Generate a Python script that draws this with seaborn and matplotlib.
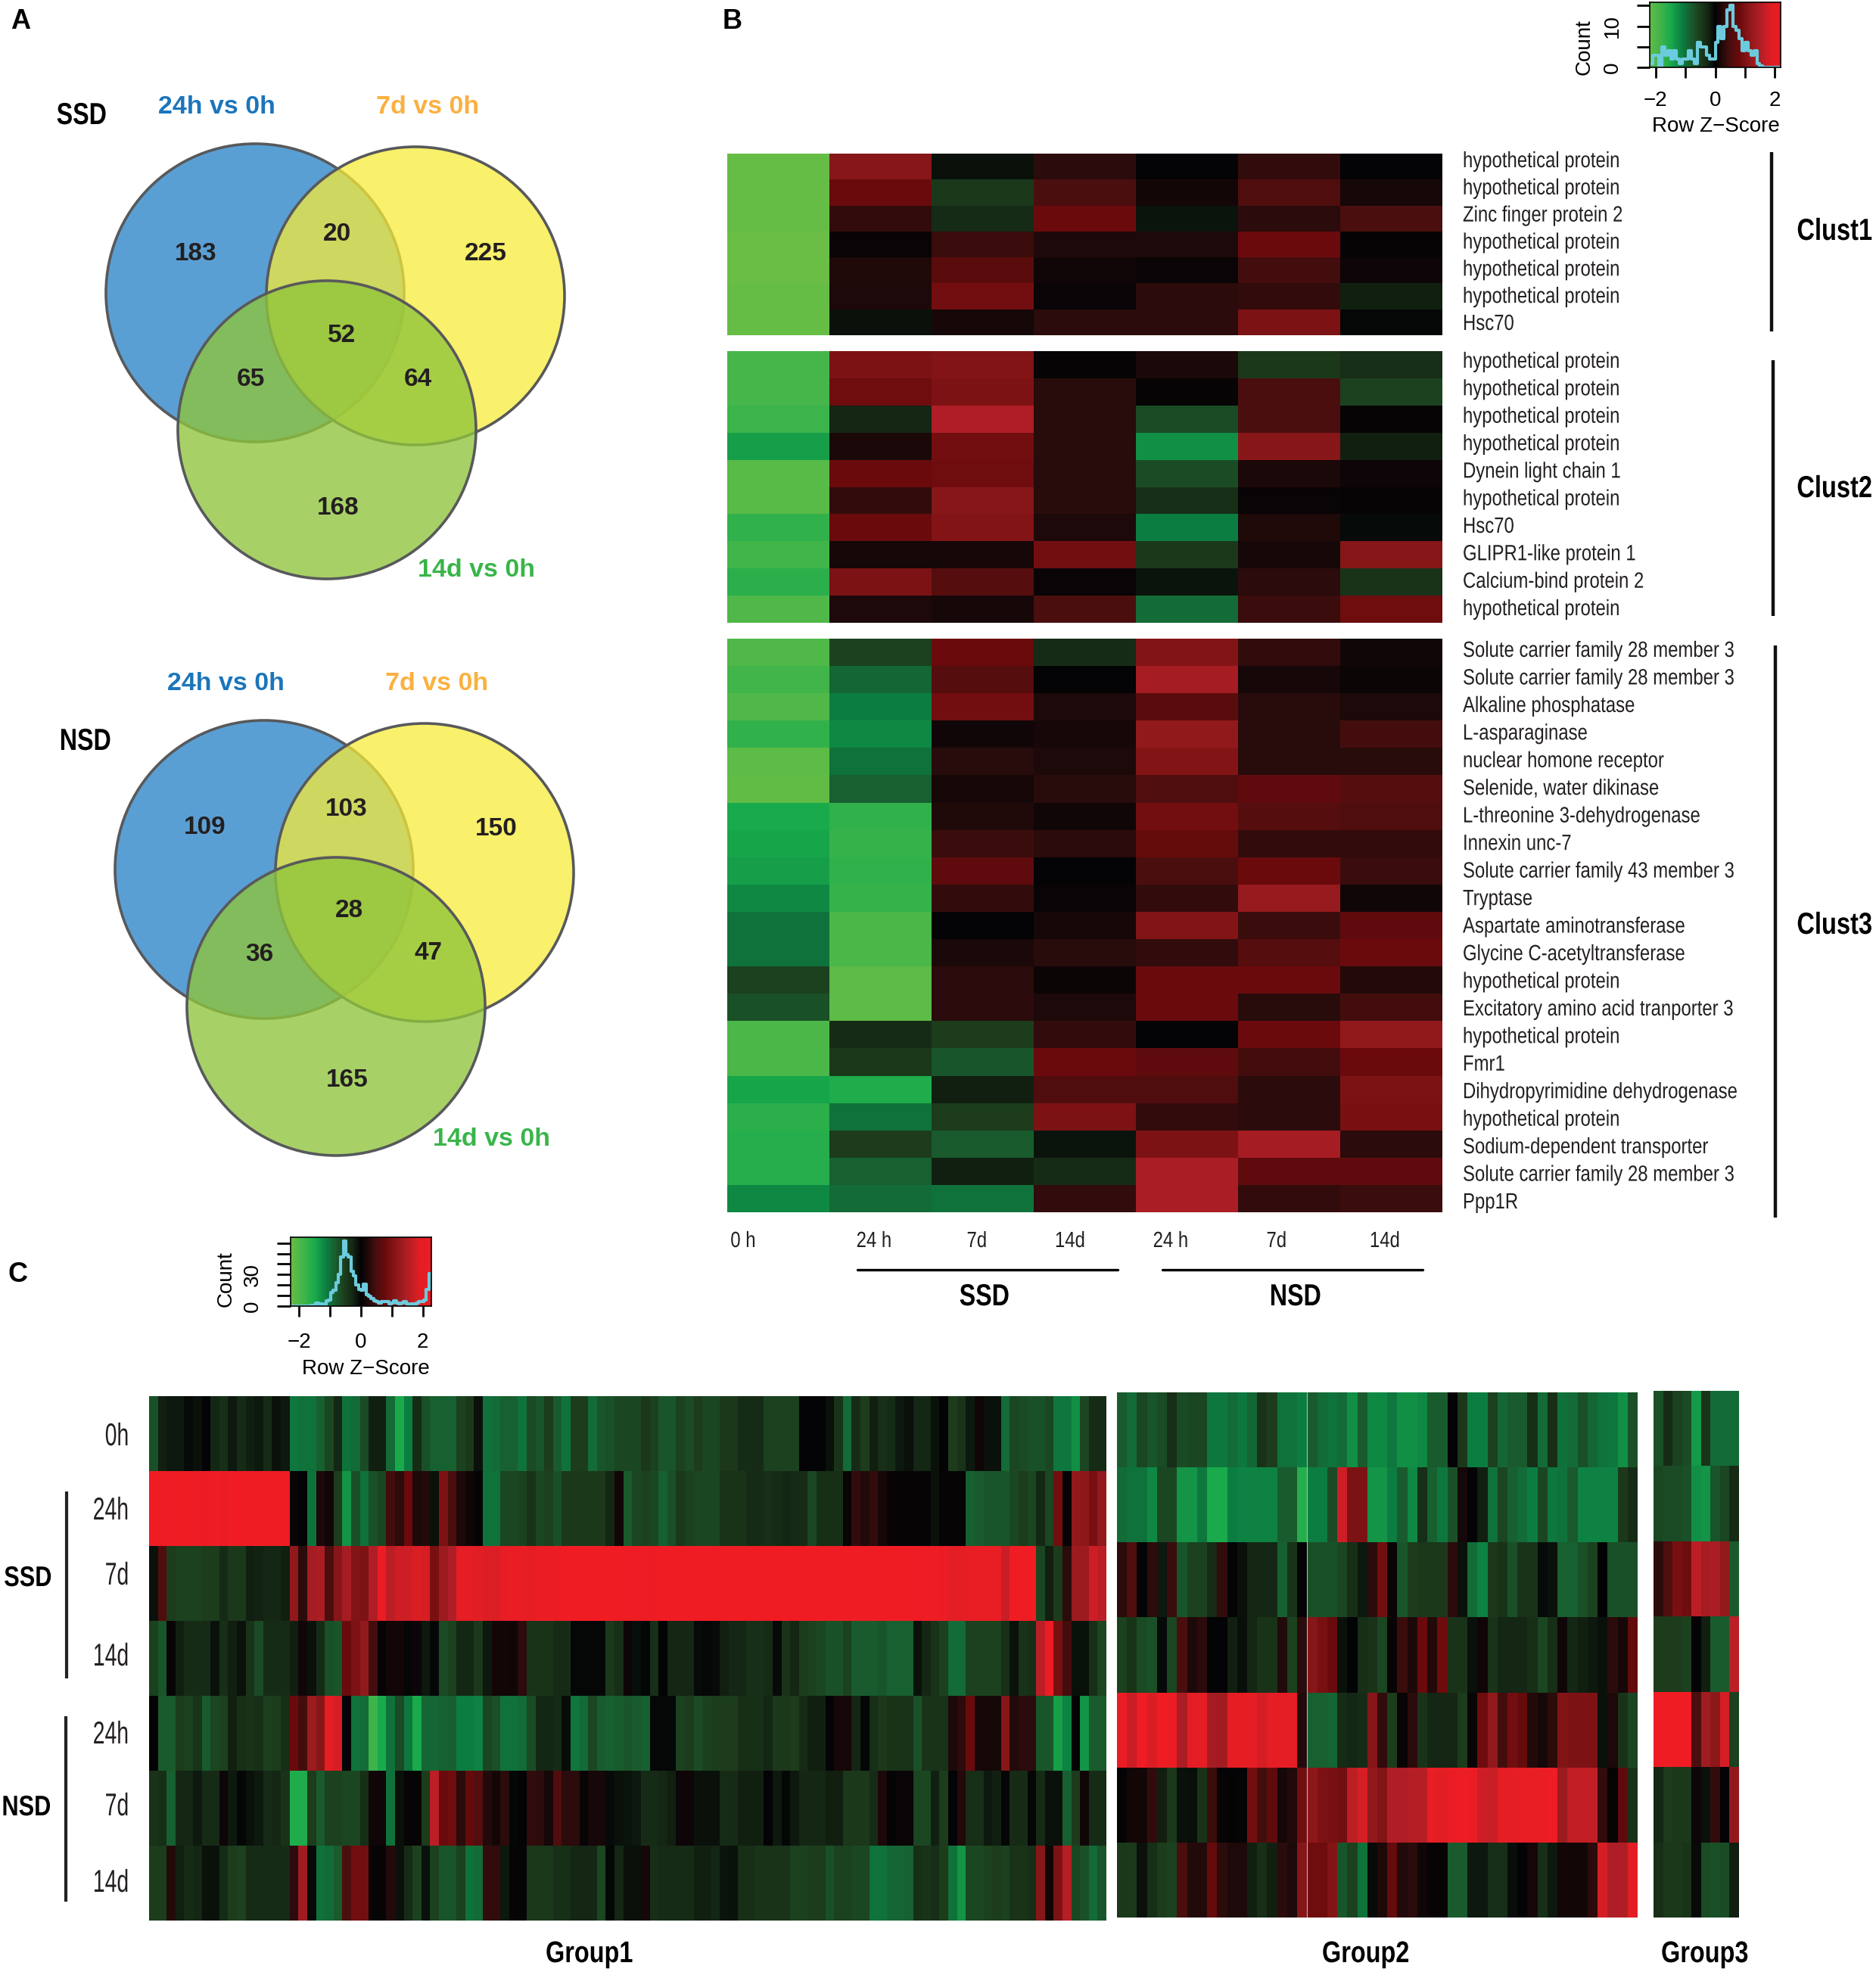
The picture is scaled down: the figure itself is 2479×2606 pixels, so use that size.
import numpy as np
import pandas as pd
import seaborn as sns
import matplotlib.pyplot as plt
from matplotlib.colors import LinearSegmentedColormap
from matplotlib.patches import Circle
from matplotlib.patheffects import AbstractPathEffect
from matplotlib.transforms import Affine2D

W, H = 2479, 2606
ARIAL = ['Liberation Sans', 'DejaVu Sans']

# venn counts
venn_names = ['24h vs 0h', '7d vs 0h', '14d vs 0h']
ssd_counts = [183, 20, 225, 65, 52, 64, 168]
nsd_counts = [109, 103, 150, 36, 28, 47, 165]

# panel B genes
clust1_genes = ['hypothetical protein', 'hypothetical protein', 'Zinc finger protein 2', 'hypothetical protein',
                'hypothetical protein', 'hypothetical protein', 'Hsc70']
clust2_genes = ['hypothetical protein', 'hypothetical protein', 'hypothetical protein', 'hypothetical protein',
                'Dynein light chain 1', 'hypothetical protein', 'Hsc70', 'GLIPR1-like protein 1',
                'Calcium-bind protein 2', 'hypothetical protein']
clust3_genes = ['Solute carrier family 28 member 3', 'Solute carrier family 28 member 3', 'Alkaline phosphatase',
                'L-asparaginase', 'nuclear homone receptor', 'Selenide, water dikinase',
                'L-threonine 3-dehydrogenase', 'Innexin unc-7', 'Solute carrier family 43 member 3', 'Tryptase',
                'Aspartate aminotransferase', 'Glycine C-acetyltransferase', 'hypothetical protein',
                'Excitatory amino acid tranporter 3', 'hypothetical protein', 'Fmr1',
                'Dihydropyrimidine dehydrogenase', 'hypothetical protein', 'Sodium-dependent transporter',
                'Solute carrier family 28 member 3', 'Ppp1R']

clust1 = [[-2.25, 1.1, -0.1, 0.3, 0, 0.35, 0],
          [-2.25, 0.8, -0.45, 0.5, 0.12, 0.55, 0.15],
          [-2.25, 0.35, -0.3, 0.8, -0.12, 0.3, 0.5],
          [-2.3, 0.05, 0.4, 0.2, 0.2, 0.8, 0.03],
          [-2.3, 0.22, 0.65, 0.1, 0.05, 0.45, 0.08],
          [-2.25, 0.2, 0.9, 0.05, 0.3, 0.35, -0.2],
          [-2.25, -0.1, 0.15, 0.3, 0.3, 1.0, -0.03]]
clust2 = [[-1.9, 1.0, 1.05, 0.02, 0.18, -0.45, -0.35],
          [-1.9, 0.85, 1.0, 0.28, 0.02, 0.5, -0.55],
          [-1.8, -0.25, 1.5, 0.28, -0.65, 0.5, 0.02],
          [-1.4, 0.18, 0.9, 0.28, -1.25, 1.1, -0.2],
          [-2.1, 0.8, 0.85, 0.28, -0.65, 0.18, 0.08],
          [-2.1, 0.35, 1.1, 0.28, -0.35, 0.05, 0.02],
          [-1.7, 0.8, 1.05, 0.2, -1.1, 0.22, -0.05],
          [-1.85, 0.15, 0.15, 0.9, -0.45, 0.15, 1.1],
          [-1.65, 1.0, 0.6, 0.05, -0.12, 0.3, -0.4],
          [-2.0, 0.2, 0.15, 0.5, -0.95, 0.4, 0.85]]
clust3 = [[-2.0, -0.55, 0.8, -0.3, 1.05, 0.35, 0.1],
          [-1.85, -0.9, 0.6, 0, 1.4, 0.15, 0.07],
          [-2.0, -1.1, 0.9, 0.2, 0.65, 0.28, 0.2],
          [-1.7, -1.2, 0.1, 0.15, 1.2, 0.28, 0.45],
          [-2.15, -1.0, 0.28, 0.2, 1.05, 0.28, 0.28],
          [-2.2, -0.85, 0.15, 0.28, 0.55, 0.7, 0.6],
          [-1.5, -1.7, 0.22, 0.1, 0.9, 0.6, 0.55],
          [-1.45, -1.75, 0.4, 0.3, 0.75, 0.35, 0.35],
          [-1.4, -1.7, 0.7, 0, 0.5, 0.8, 0.4],
          [-1.2, -1.75, 0.35, 0.05, 0.35, 1.25, 0.1],
          [-1.0, -1.95, 0, 0.15, 1.05, 0.4, 0.7],
          [-1.0, -1.95, 0.18, 0.28, 0.35, 0.6, 0.8],
          [-0.55, -2.15, 0.3, 0.07, 0.8, 0.8, 0.25],
          [-0.7, -2.15, 0.3, 0.2, 0.8, 0.28, 0.45],
          [-1.95, -0.3, -0.5, 0.35, 0, 0.8, 1.2],
          [-1.95, -0.45, -0.75, 0.8, 0.7, 0.45, 0.8],
          [-1.45, -1.55, -0.2, 0.55, 0.55, 0.3, 1.0],
          [-1.65, -1.0, -0.5, 1.0, 0.35, 0.3, 0.95],
          [-1.6, -0.5, -0.8, -0.12, 1.0, 1.4, 0.3],
          [-1.6, -0.85, -0.2, -0.3, 1.45, 0.7, 0.7],
          [-1.2, -0.95, -1.0, 0.35, 1.45, 0.35, 0.4]]

# panel C, group 1
g1_0h = [-0.7, -0.2, -0.15, -0.15, -0.05, -0.1, 0, -0.25, -0.35, -0.15,
         -0.3, -0.2, -0.15, -0.3, -0.1, -0.15, -1.05, -1.0, -1.0, -0.85,
         -0.6, -0.25, -1.0, -0.95, -0.65, -0.2, -0.2, -0.95, -1.5, -1.1,
         -0.3, -0.7, -0.85, -0.85, -0.85, -0.55, -0.45, -0.1, -1.0, -0.95,
         -0.85, -0.85, -1.0, -0.65, -0.75, -0.5, -0.8, -1.0, -0.5, -0.5,
         -0.95, -0.75, -0.7, -0.6, -0.6, -0.6, -0.45, -0.55, -0.75, -0.75,
         -0.55, -0.65, -0.5, -0.6, -0.6, -0.45, -0.45, -0.3, -0.3, -0.3,
         -0.55, -0.55, -0.55, -0.55, 0, 0, 0, -0.1, -0.4, -0.95,
         -0.3, -0.5, -0.2, -0.35, -0.3, -0.15, -0.1, -0.25, -0.25, -0.1,
         0, -0.5, -0.4, -0.15, 0.1, -0.1, -0.1, -0.95, -0.6, -0.65,
         -0.7, -0.7, -0.6, -1.05, -1.05, -1.25, -0.6, -0.3, -0.3]
g1_ssd24 = [2.3, 2.25, 2.3, 2.3, 2.3, 2.25, 2.2, 2.3, 2.2, 2.3,
            2.3, 2.3, 2.3, 2.3, 2.3, 2.3, 0.05, 0, -1.0, 0.2,
            0.1, -0.5, -1.3, -0.7, -1.0, -0.7, -0.6, 0.45, 0.3, 0.8,
            0.2, 0.25, -0.1, 1.0, 0.5, 0.2, 0.1, 0.02, -1.0, -1.0,
            -0.6, -0.6, -0.55, -0.4, -0.6, -0.55, -0.7, -0.45, -0.45, -0.45,
            -0.45, -0.45, -0.25, 0.1, -0.8, -0.6, -0.55, -0.6, -0.85, -0.7,
            -0.45, -0.55, -0.6, -0.6, -0.6, -0.4, -0.4, -0.4, -0.3, -0.3,
            -0.35, -0.3, -0.25, -0.3, -0.3, -0.6, -0.35, -0.35, -0.35, 0.05,
            0.35, 0.25, 0.35, 0.15, 0.05, 0.03, 0.03, 0.03, 0.03, -0.1,
            0.02, 0.02, 0.02, -0.85, -0.8, -0.75, -0.75, -0.75, -0.6, -0.5,
            -0.6, -0.25, -0.6, 0.9, 0.02, 1.2, 1.15, 0.95, 1.2]
g1_ssd7 = [-0.1, 0.55, -0.5, -0.55, -0.55, -0.55, -0.5, -0.5, -0.3, -0.45,
           -0.45, -0.2, -0.22, -0.25, -0.25, -0.2, 1.2, 0.3, 1.4, 1.45,
           0.5, 1.1, 1.4, 1.05, 1.0, 1.5, 2.2, 1.6, 1.75, 1.75,
           1.85, 1.8, 0.95, 1.3, 1.5, 2.0, 2.0, 1.9, 1.85, 1.85,
           2.05, 2.2, 2.1, 2.05, 2.2, 2.2, 2.2, 2.3, 2.3, 2.3,
           2.3, 2.3, 2.3, 2.3, 2.3, 2.25, 2.25, 2.2, 2.3, 2.3,
           2.3, 2.3, 2.3, 2.3, 2.3, 2.3, 2.3, 2.3, 2.3, 2.3,
           2.3, 2.3, 2.3, 2.3, 2.3, 2.3, 2.3, 2.3, 2.3, 2.3,
           2.3, 2.3, 2.3, 2.3, 2.3, 2.3, 2.3, 2.3, 2.25, 2.25,
           2.2, 1.95, 1.95, 2.1, 2.1, 2.1, 2.1, 1.7, 2.3, 2.3,
           2.3, -0.6, -0.2, -0.5, 0.3, 1.3, 1.3, 1.75, 1.6]
g1_ssd14 = [-0.55, -0.75, 0.02, -0.2, -0.3, -0.3, -0.3, -0.1, -0.35, -0.2,
            -0.1, -0.4, -0.65, -0.3, -0.3, -0.3, -0.2, 0.1, -0.1, -0.3,
            -0.7, -0.75, 0.8, 1.0, 1.2, 0.45, 0.02, 0.12, 0.12, -0.02,
            0.08, -0.15, -0.03, -0.65, -0.55, -0.25, -0.25, -0.45, -0.15, 0.12,
            0.12, 0.1, 0.3, -0.4, -0.4, -0.4, -0.3, -0.3, -0.03, -0.03,
            -0.03, -0.03, -0.45, -0.35, 0.08, -0.08, -0.03, -0.35, 0, -0.25,
            -0.25, -0.25, -0.05, -0.03, -0.05, -0.2, -0.25, -0.25, -0.35, -0.35,
            -0.3, -0.05, -0.4, -0.25, -0.5, -0.55, -0.6, -0.7, -0.7, -0.55,
            -0.8, -0.8, -0.8, -0.75, -0.85, -0.85, -0.85, -0.1, -0.25, -0.4,
            -0.55, -0.95, -0.95, -0.55, -0.55, -0.55, -0.55, -0.35, -0.1, -0.4,
            -0.35, 1.6, 2.2, 0.95, 0.45, -0.1, -0.1, -0.35, -0.6]
g1_nsd24 = [0, -0.8, -0.8, -0.5, -0.55, -0.4, -0.8, -0.6, -0.55, -0.2,
            -0.35, -0.4, -0.35, -0.55, -0.5, -0.35, 0.8, 0.45, 1.3, 1.1,
            2.0, 1.8, 0, -1.0, -0.95, -1.8, -1.5, -1.0, -0.65, -1.05,
            -1.5, -0.9, -0.9, -0.85, -0.85, -1.1, -1.1, -1.15, -0.6, -0.7,
            -1.0, -1.0, -0.95, -0.65, -0.25, -0.25, -0.3, -0.07, -1.05, -0.95,
            -0.6, -0.8, -0.85, -0.8, -0.75, -0.8, -0.85, -0.03, -0.03, -0.03,
            -0.55, -0.5, -0.65, -0.55, -0.5, -0.5, -0.5, -0.35, -0.35, -0.35,
            -0.25, -0.45, -0.45, -0.5, -0.3, -0.2, -0.2, 0, 0.15, 0.15,
            -0.25, -0.03, -0.35, -0.45, -0.4, -0.4, -0.4, -0.7, -0.4, -0.4,
            -0.4, 0.2, 0.3, 0.8, 0.15, 0.15, 0.15, 1.1, 0.25, 0.3,
            0.3, -0.75, -0.75, -1.4, -1.15, 0.03, -1.3, -0.8, -0.8]
g1_nsd7 = [-0.4, -0.35, -0.85, -0.25, -0.25, -0.15, -0.3, -0.3, 0.08, -0.15,
           -0.03, -0.1, -0.15, -0.3, -0.25, -0.4, -1.55, -1.55, -0.5, -0.8,
           -0.55, -0.55, -0.6, -0.6, -0.35, 0.1, 0.1, -1.0, -0.1, 0.02,
           0.02, -0.5, 1.6, 0.8, 0.85, 0.3, 0.75, 0.6, 0.25, 0.12,
           0.3, -0.03, 0, 0.35, 0.3, 0.15, 0.55, 0.3, 0.3, 0.05,
           0.15, 0.15, -0.05, -0.1, -0.12, -0.15, -0.3, -0.3, -0.25, -0.2,
           0.08, 0.08, -0.1, -0.1, -0.1, -0.3, -0.3, -0.2, -0.2, -0.2,
           0, -0.15, -0.03, -0.15, -0.25, -0.25, -0.25, -0.2, -0.2, -0.45,
           -0.45, -0.45, -0.3, 0.2, 0, 0.06, 0.06, -0.6, -0.6, -0.2,
           -0.5, 0, 0.25, -0.35, -0.35, -0.15, -0.2, -0.02, -0.3, -0.3,
           -0.02, -0.3, -0.1, -0.1, -0.85, -0.5, 0.1, -0.3, -0.3]
g1_nsd14 = [-0.5, -0.5, 0.25, -0.2, -0.3, -0.25, -0.1, -0.1, -0.3, -0.5,
            -0.55, -0.3, -0.3, -0.3, -0.3, -0.3, 0.3, 1.35, -0.05, -1.0,
            -0.95, -0.8, 0.5, 0.9, 0.9, 0.03, 0.02, 0.25, -0.1, -0.3,
            -0.55, -0.1, -0.55, -0.75, -0.75, -0.55, -1.0, -0.95, 0.35, 0.35,
            -0.15, 0.02, 0.02, -0.45, -0.45, -0.45, -0.35, -0.35, -0.25, -0.25,
            -0.25, -0.6, -0.03, -0.25, -0.1, -0.1, 0.15, -0.35, -0.3, -0.3,
            -0.3, -0.3, -0.2, -0.2, -0.25, -0.12, -0.1, -0.35, -0.35, -0.4,
            -0.4, -0.4, -0.4, -0.55, -0.55, -0.5, -0.5, -0.7, -0.55, -0.55,
            -0.6, -0.6, -1.0, -1.0, -0.9, -0.9, -0.85, -0.35, -0.4, -0.35,
            -0.5, -1.0, -1.3, -0.6, -0.6, -0.55, -0.5, -0.55, -0.4, -0.4,
            -0.35, 1.1, 0.1, 1.0, 1.55, -0.6, -0.7, -0.95, -0.75]

# panel C, group 2
g2_0h = [-0.8, -0.95, -0.6, -0.75, -0.65, -0.35, -0.65, -0.6, -0.6, -1.05,
         -1.05, -0.95, -1.05, -0.9, -0.4, -0.5, -1.0, -1.0, -1.1, -0.8,
         -0.95, -1.0, -0.95, -1.25, -0.8, -1.2, -1.2, -1.05, -1.25, -1.25,
         -1.2, -0.8, -0.8, 0, -0.45, -1.1, -1.1, -0.55, -0.9, -0.8,
         -0.8, -0.35, -0.95, -0.35, -1.0, -0.95, -0.7, -0.9, -1.0, -1.05,
         -1.25, -0.7]
g2_ssd24 = [-0.95, -1.0, -1.0, -1.2, -0.6, -0.6, -1.3, -1.3, -1.05, -1.5,
            -1.5, -1.1, -1.15, -1.15, -1.15, -1.15, -0.8, -0.8, -1.6, -1.1,
            -1.1, -0.65, 1.75, 1.0, 1.0, -1.3, -1.3, -1.1, -0.8, -1.2,
            -0.35, -0.85, -1.05, -0.7, 0.15, 0, -0.2, -1.0, -0.6, -0.85,
            -0.95, -1.1, -0.6, -1.05, -1.0, -0.8, -1.15, -1.15, -1.15, -1.15,
            -0.45, -0.3]
g2_ssd7 = [0.3, 0.55, 0, 0.3, -0.15, 0.4, -0.75, -0.55, -0.55, -0.3,
           0.35, 0, -0.1, -0.25, -0.25, -0.25, -0.85, -0.4, 0, -0.7,
           -0.7, -0.7, -0.6, -0.35, -0.15, 0.3, 0.9, 0.05, -0.75, -0.5,
           -0.45, -0.45, -0.45, 0.3, -0.1, -0.95, -1.15, -0.45, -0.4, -0.7,
           -0.4, -0.4, -0.05, -0.1, -0.85, -0.85, -0.7, -0.55, 0, -0.7,
           -0.7, -0.7]
g2_ssd14 = [-0.55, -0.4, -0.65, -0.7, -0.05, -0.6, 0.5, 0.2, 0.3, 0,
            0, -0.2, -0.08, -0.25, -0.4, -0.4, 0.25, -0.55, 0.3, 1.1,
            0.95, 0.8, -0.1, 0, -0.35, -0.4, -0.6, 0.02, 0.4, 0.2,
            0.8, 0.25, 0.85, -0.4, -0.4, -0.1, 0.1, -0.4, -0.25, -0.25,
            -0.25, -0.35, -0.6, -0.35, 0.1, -0.25, -0.2, -0.15, -0.1, 0.3,
            0.15, 0.75]
g2_nsd24 = [2.2, 1.7, 2.25, 1.85, 2.3, 2.2, 1.45, 2.0, 2.0, 1.4,
            1.35, 2.0, 2.05, 2.0, 1.8, 2.0, 2.0, 2.0, 0.25, -0.85,
            -0.85, -0.9, -0.3, -0.25, -0.3, 1.1, 0.35, -0.5, 0.05, 0.3,
            -0.4, -0.25, -0.25, -0.25, -0.5, 0.05, 0.85, 1.2, 0.45, 0.9,
            0.75, 0.25, 0.15, 0.3, 1.05, 1.0, 1.0, 1.0, -0.1, 0.2,
            -0.4, -0.6]
g2_nsd7 = [0, 0.12, 0.12, 0.35, -0.2, -0.45, -0.1, -0.08, -0.4, 0.4,
           0.02, 0, 0.03, 0.9, 0.45, 0.7, 0.15, 0.25, 0.9, 1.15,
           1.0, 0.95, 0.9, 1.6, 1.8, 1.2, 1.05, 1.5, 1.5, 1.55,
           1.55, 2.1, 1.9, 2.2, 2.25, 2.15, 1.75, 1.7, 2.0, 2.0,
           2.1, 2.1, 2.15, 2.25, 1.3, 1.65, 1.65, 1.65, 0.35, 0.02,
           0.7, -0.4]
g2_nsd14 = [-0.45, -0.45, -0.1, -0.35, -0.5, -0.55, 0.5, 0.25, 0.25, 0.75,
            0.3, 0.2, 0.2, -0.2, -0.35, -0.2, 0.3, 0.2, 1.1, 0.85,
            0.85, 1.05, -0.75, -0.55, -1.0, -0.05, 0.2, 0.75, 0.25, 0.3,
            0.1, 0.03, 0.02, -0.8, -0.8, -0.15, -0.15, -0.35, -0.35, -0.08,
            0, 0.15, -0.35, -0.15, 0.12, 0.12, 0.12, 0.3, 1.8, 1.5,
            1.5, 1.9]

# panel C, group 3
g3_0h = [-0.7, -0.3, -0.55, -0.65, -1.35, -0.4, -0.95, -0.95, -0.95]
g3_ssd24 = [-0.6, -0.65, -0.65, -0.7, -1.25, -1.3, -0.75, -0.6, -0.3]
g3_ssd7 = [0.3, 0.55, 0.95, 0.85, 1.6, 1.4, 1.45, 1.2, -0.8]
g3_ssd14 = [-0.5, -0.5, -0.5, -0.55, 0, -0.2, -0.8, -0.8, 1.6]
g3_nsd24 = [2.25, 2.3, 2.3, 2.3, 0.5, 1.35, 1.15, 1.8, -0.55]
g3_nsd7 = [-0.25, -0.5, -0.45, -0.45, 0.08, -0.1, 0.35, 0, 1.2]
g3_nsd14 = [-0.35, -0.45, -0.45, -0.4, -0.05, -0.65, -0.7, -0.65, -0.2]

time_labels = ['0h', '24h', '7d', '14d', '24h', '7d', '14d']

# colour key histograms
key_b_counts = [1, 3, 3, 0, 5, 3, 4, 2, 4, 2, 1, 2, 2, 4, 2, 1, 6, 5, 5, 3, 2, 2,
                6, 10, 7, 10, 14, 15, 10, 9, 7, 4, 6, 4, 3, 4, 1, 0.3, 0, 0, 0, 0, 0, 0]
key_c_counts = [0, 0, 0, 0, 0, 0, 0, 0, 0.5, 1, 3, 2, 2, 1, 5, 6, 13, 15, 22, 30,
                47, 62, 49, 47, 33, 29, 20, 16, 15, 21, 11, 9, 7, 5, 4, 3, 4, 4, 4, 2,
                3, 5, 3, 2, 3, 4, 2, 1, 2, 1, 3, 4, 4, 6, 16, 31]

# redgreen palette picked off the colour keys
nodes = [(-2.3, (106, 190, 69)), (-1.8, (60, 180, 75)), (-1.5, (25, 170, 75)), (-1.1, (12, 125, 65)),
         (-0.8, (25, 90, 45)), (-0.5, (28, 60, 28)), (-0.25, (20, 38, 20)), (0, (3, 3, 5)),
         (0.25, (35, 10, 10)), (0.5, (75, 14, 14)), (0.8, (105, 10, 12)), (1.15, (140, 24, 26)),
         (1.5, (175, 30, 38)), (1.9, (225, 30, 36)), (2.3, (240, 28, 36))]
redgreen = LinearSegmentedColormap.from_list(
    'redgreen', [((v + 2.3) / 4.6, tuple(c / 255 for c in rgb)) for v, rgb in nodes], N=512)

sns.set_theme(style='white')
plt.rcParams['font.family'] = ARIAL

fig = plt.figure(figsize=(W / 100, H / 100), dpi=100)


class Squeeze(AbstractPathEffect):
    # no narrow font installed, so narrow the glyphs of a normal text
    def __init__(self, factor, frac):
        super().__init__()
        self.factor = factor
        self.frac = frac

    def draw_path(self, renderer, gc, tpath, affine, rgbFace=None):
        width = tpath.get_extents().x1
        shift = (1 - self.factor) * width * self.frac
        renderer.draw_path(gc, tpath, Affine2D().scale(self.factor, 1).translate(shift, 0) + affine, rgbFace)


def px_axes(x0, y0, x1, y1):
    return fig.add_axes([x0 / W, 1 - y1 / H, (x1 - x0) / W, (y1 - y0) / H])


# overlay in pixel coordinates for venns and annotation
ov = fig.add_axes([0, 0, 1, 1], zorder=5)
ov.set_xlim(0, W)
ov.set_ylim(H, 0)
ov.axis('off')
ov.patch.set_alpha(0)


def label(x, y, s, size=21, weight='normal', color='#231f20', squeeze=None, ha='center', **kw):
    t = ov.text(x, y, s, fontsize=size, fontweight=weight, color=color, ha=ha, va='center', **kw)
    if squeeze:
        t.set_path_effects([Squeeze(squeeze, {'left': 0, 'center': 0.5, 'right': 1}[ha])])
    return t


def venn(dx, dy, counts, spots, name_spots):
    edge = '#58595b'
    ov.add_patch(Circle((337 + dx, 387 + dy), 197, fc='#5a9fd4', ec=edge, lw=2.6))
    ov.add_patch(Circle((549 + dx, 391 + dy), 197, fc=(247 / 255, 235 / 255, 55 / 255, 0.74), ec=edge, lw=2.6))
    ov.add_patch(Circle((432 + dx, 568 + dy), 197, fc=(143 / 255, 197 / 255, 59 / 255, 0.78), ec=edge, lw=2.6))
    for (x, y), n in zip(spots, counts):
        label(x, y + 3, str(n), size=24, weight='bold')
    for (x, y), s, c in zip(name_spots, venn_names, ['#1b75bb', '#fbb040', '#39b54a']):
        label(x, y + 3, s, size=24.5, weight='bold', color=c)


venn(0, 0, ssd_counts,
     [(259, 332), (446, 306), (642, 333), (331, 499), (452, 441), (552, 498), (447, 668)],
     [(286, 138), (565, 138), (630, 751)])
venn(12, 762, nsd_counts,
     [(271, 1091), (458, 1066), (656, 1093), (343, 1258), (461, 1201), (566, 1256), (459, 1424)],
     [(298, 900), (577, 900), (649, 1502)])

label(27, 29, 'A', size=26, weight='bold', color='black')
label(968, 28, 'B', size=26, weight='bold', color='black')
label(23, 1684, 'C', size=26, weight='bold', color='black')
label(108, 153, 'SSD', size=29, weight='bold', color='black', squeeze=0.8)
label(113, 980, 'NSD', size=29, weight='bold', color='black', squeeze=0.8)


# panel B
def gene_heat(rows, genes, y0, y1, text_y0, text_y1):
    ax = px_axes(961, y0, 1906, y1)
    sns.heatmap(pd.DataFrame(rows), cmap=redgreen, vmin=-2.3, vmax=2.3, cbar=False,
                xticklabels=False, yticklabels=False, ax=ax)
    for g, y in zip(genes, np.linspace(text_y0, text_y1, len(genes))):
        label(1933, y, g, ha='left', squeeze=0.82)
    return ax


gene_heat(clust1, clust1_genes, 203, 443, 213, 428)
gene_heat(clust2, clust2_genes, 464, 823, 478, 805)
gene_heat(clust3, clust3_genes, 844, 1602, 860, 1589)

for x, y0, y1, s, yt in [(2341, 201, 438, 'Clust1', 306), (2343, 476, 814, 'Clust2', 646),
                         (2346, 853, 1609, 'Clust3', 1223)]:
    ov.plot([x, x], [y0, y1], color='#111111', lw=3.2, solid_capstyle='butt')
    label(2474, yt, s, size=29, weight='bold', color='black', squeeze=0.81, ha='right')

for x, s in zip([982, 1155, 1291, 1414, 1547, 1687, 1830], ['0 h', '24 h', '7d', '14d', '24 h', '7d', '14d']):
    label(x, 1640, s, squeeze=0.82)
ov.plot([1133, 1477], [1678, 1678], color='black', lw=2.4)
ov.plot([1536, 1880], [1678, 1678], color='black', lw=2.4)
label(1301, 1714, 'SSD', size=29, weight='bold', color='black', squeeze=0.8)
label(1712, 1714, 'NSD', size=29, weight='bold', color='black', squeeze=0.8)

# panel C
ax_g1 = px_axes(197, 1845, 1462, 2538)
sns.heatmap(pd.DataFrame([g1_0h, g1_ssd24, g1_ssd7, g1_ssd14, g1_nsd24, g1_nsd7, g1_nsd14]), cmap=redgreen,
            vmin=-2.3, vmax=2.3, cbar=False, xticklabels=False, yticklabels=False, ax=ax_g1)
for s, y in zip(time_labels, [1899, 1997, 2083, 2190, 2293, 2388, 2489]):
    label(171, y, s, size=30, squeeze=0.68, ha='right')

ax_g2 = px_axes(1476, 1840, 2164, 2534)
sns.heatmap(pd.DataFrame([g2_0h, g2_ssd24, g2_ssd7, g2_ssd14, g2_nsd24, g2_nsd7, g2_nsd14]), cmap=redgreen,
            vmin=-2.3, vmax=2.3, cbar=False, xticklabels=False, yticklabels=False, ax=ax_g2)
ax_g2.axvline(19, color='#b5b5b5', lw=0.8)

ax_g3 = px_axes(2185, 1838, 2298, 2534)
sns.heatmap(pd.DataFrame([g3_0h, g3_ssd24, g3_ssd7, g3_ssd14, g3_nsd24, g3_nsd7, g3_nsd14]), cmap=redgreen,
            vmin=-2.3, vmax=2.3, cbar=False, xticklabels=False, yticklabels=False, ax=ax_g3)

ov.plot([88, 88], [1971, 2218], color='#222222', lw=3, solid_capstyle='butt')
ov.plot([87, 87], [2268, 2513], color='#222222', lw=3, solid_capstyle='butt')
label(37, 2086, 'SSD', size=27, weight='bold', color='black', squeeze=0.82)
label(35, 2389, 'NSD', size=27, weight='bold', color='black', squeeze=0.82)
for x, s in zip([779, 1805, 2253], ['Group1', 'Group2', 'Group3']):
    label(x, 2582, s, size=28.5, weight='bold', color='black', squeeze=0.82)


# colour keys, heatmap.2 style
def color_key(box, xlim, ylim, counts, yticks, ylabels, ytick_len, xpad, count_xy, score_xy):
    ax = px_axes(*box)
    grad = np.linspace(xlim[0], xlim[1], 300)
    ax.imshow(grad[None, :], cmap=redgreen, vmin=-2.3, vmax=2.3, aspect='auto',
              extent=[xlim[0], xlim[1], ylim[0], ylim[1]])
    edges = np.linspace(xlim[0], xlim[1], len(counts) + 1)
    sns.lineplot(x=edges, y=list(counts) + [counts[-1]], drawstyle='steps-post', estimator=None, sort=False,
                 color='#6ccbdc', lw=3, ax=ax)
    ax.set_xlim(*xlim)
    ax.set_ylim(*ylim)
    ax.set_xticks([-2, -1, 0, 1, 2])
    ax.set_xticklabels(['\u22122', '', '0', '', '2'], fontsize=20)
    ax.set_yticks(yticks)
    ax.set_yticklabels(ylabels, fontsize=20, rotation=90, va='center')
    ax.tick_params(axis='x', bottom=True, length=10, width=2, pad=xpad, color='black', labelcolor='black')
    ax.tick_params(axis='y', left=True, length=ytick_len, width=2, pad=14, color='black', labelcolor='black')
    ax.set_xlabel('')
    ax.set_ylabel('')
    for sp in ax.spines.values():
        sp.set_visible(True)
        sp.set_color('black')
        sp.set_linewidth(1.2)
    label(count_xy[0], count_xy[1], 'Count', size=20, color='black', rotation=90)
    label(score_xy[0], score_xy[1], 'Row Z\u2212Score', size=20, color='black')


color_key((2180, 3, 2353, 89), (-2.2, 2.2), (0, 15.8), key_b_counts, [0, 5, 10, 15], ['0', '', '10', ''],
          12, 12, (2094, 62), (2267, 167))
color_key((384, 1635, 570, 1726), (-2.27, 2.28), (0, 65.5), key_c_counts, [0, 10, 20, 30, 40, 50, 60],
          ['0', '', '', '30', '', '', ''], 13, 15, (299, 1690), (483, 1809))

fig.savefig('out.png', dpi=100)
